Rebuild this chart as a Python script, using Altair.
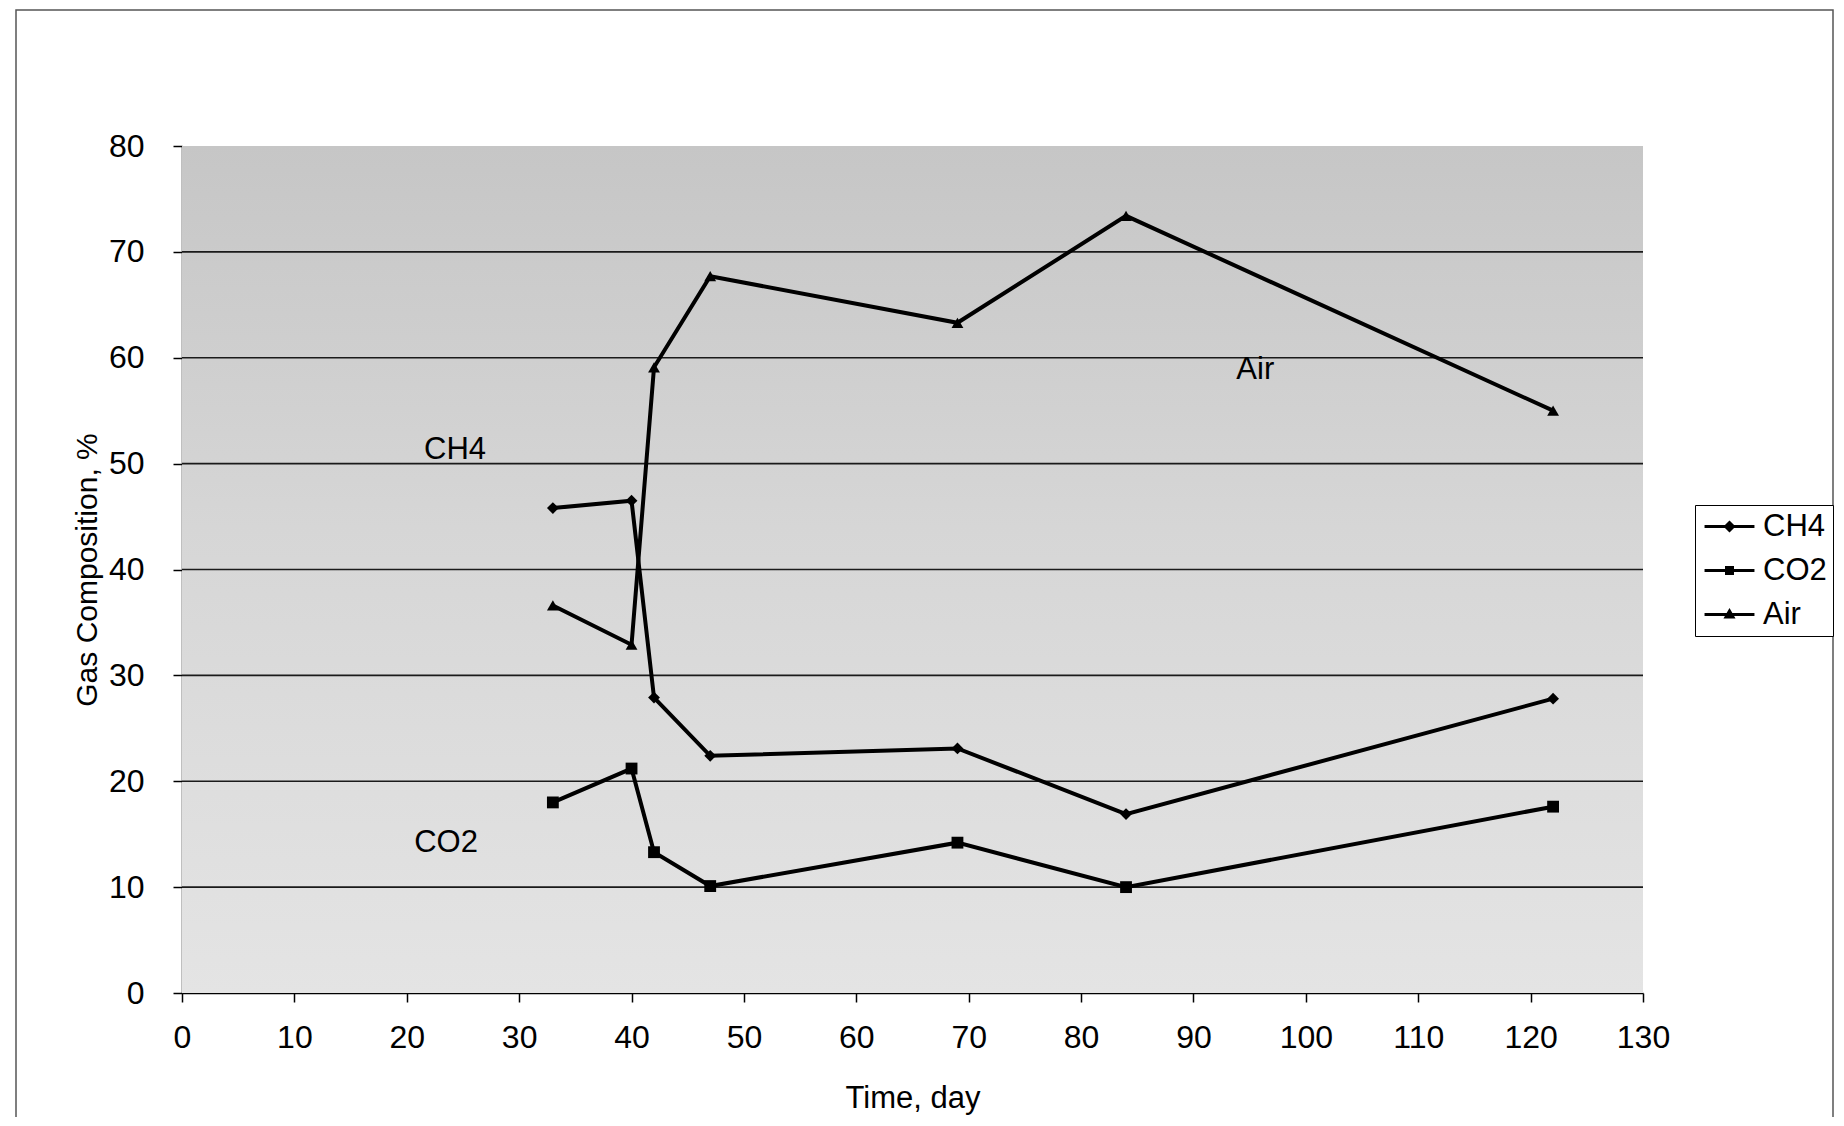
import altair as alt
import pandas as pd

# ---- data ----
series_names = ["CH4", "CO2", "Air"]
time_days = [33, 40, 42, 47, 69, 84, 122]
ch4_values = [45.8, 46.5, 27.9, 22.4, 23.1, 16.9, 27.8]
co2_values = [18.0, 21.2, 13.3, 10.1, 14.2, 10.0, 17.6]
air_values = [36.6, 32.9, 59.1, 67.7, 63.3, 73.4, 55.0]

annot_labels = ["CH4", "CO2", "Air"]
annot_x = [24.3, 23.5, 95.5]
annot_y = [51.3, 14.2, 58.8]

x_ticks = list(range(0, 131, 10))
y_ticks = list(range(0, 81, 10))
grid_levels = list(range(10, 80, 10))

rows = []
for name, vals in zip(series_names, [ch4_values, co2_values, air_values]):
    for t, v in zip(time_days, vals):
        rows.append({"series": name, "time": t, "value": v})
df = pd.DataFrame(rows)
annot_df = pd.DataFrame({"label": annot_labels, "time": annot_x, "value": annot_y})
bg_df = pd.DataFrame({"time": [0], "time2": [130], "value": [0], "value2": [80]})
grid_df = pd.DataFrame({"time": [0] * len(grid_levels), "time2": [130] * len(grid_levels),
                        "value": grid_levels})

FONT = "Liberation Sans, Arial, sans-serif"

x_scale = alt.Scale(domain=[0, 130], nice=False, zero=False)
y_scale = alt.Scale(domain=[0, 80], nice=False)
x_axis = alt.Axis(values=x_ticks, grid=False, tickSize=9, tickColor="black",
                  domainColor="black", domainWidth=1.5, tickWidth=1.5,
                  labelFont=FONT, labelFontSize=32, labelColor="black",
                  labelPadding=20, titleFont=FONT, titleFontSize=31,
                  titleFontWeight="normal", titleColor="black", titlePadding=30,
                  labelFlush=False)
y_axis = alt.Axis(values=y_ticks, grid=False,
                  tickSize=9, tickColor="black", domainColor="black",
                  domainWidth=1.5, tickWidth=1.5,
                  labelFont=FONT, labelFontSize=32, labelColor="black",
                  labelPadding=29, titleFont=FONT, titleFontSize=30,
                  titleFontWeight="normal", titleColor="black", titlePadding=6)


def X(field):
    return alt.X(field, type="quantitative", scale=x_scale, axis=x_axis, title="Time, day")


def Y(field):
    return alt.Y(field, type="quantitative", scale=y_scale, axis=y_axis,
                 title="Gas Composition, %")


gradient = alt.Gradient(
    gradient="linear",
    stops=[alt.GradientStop(offset=0, color="#c6c6c6"),
           alt.GradientStop(offset=0.45, color="#d6d6d6"),
           alt.GradientStop(offset=1, color="#e4e4e4")],
    x1=0, x2=0, y1=0, y2=1,
)

bg = alt.Chart(bg_df).mark_rect(color=gradient).encode(
    x=X("time"), x2="time2", y=Y("value"), y2="value2"
)

grid = alt.Chart(grid_df).mark_rule(color="#1a1a1a", strokeWidth=1.6).encode(
    x=X("time"), x2="time2", y=Y("value")
)

lines = alt.Chart(df).mark_line(color="black", strokeWidth=4).encode(
    x=X("time"), y=Y("value"), detail="series:N"
)

points = alt.Chart(df).mark_point(filled=True, color="black", opacity=1, size=140).encode(
    x=X("time"), y=Y("value"),
    shape=alt.Shape("series:N",
                    scale=alt.Scale(domain=series_names,
                                    range=["diamond", "square", "triangle-up"]),
                    legend=None),
)

legend_paths = [
    "M-1.61,-0.1H1.61V0.1H-1.61ZM0,-0.39L0.39,0L0,0.39L-0.39,0Z",
    "M-1.61,-0.1H1.61V0.1H-1.61ZM-0.29,-0.29H0.29V0.29H-0.29Z",
    "M-1.61,-0.1H1.61V0.1H-1.61ZM0,-0.42L0.39,0.26H-0.39Z",
]

legend_layer = alt.Chart(df).mark_point(filled=True, color="black", opacity=0).encode(
    x=X("time"), y=Y("value"),
    shape=alt.Shape("series:N",
                    scale=alt.Scale(domain=series_names, range=legend_paths),
                    legend=alt.Legend(title=None, orient="none", legendX=1513, legendY=359,
                                      labelFont=FONT, labelFontSize=31, labelColor="black",
                                      labelExpr="datum.label + '  '",
                                      symbolSize=961, symbolStrokeWidth=0,
                                      symbolFillColor="black", symbolOffset=13,
                                      symbolOpacity=1, labelOffset=18,
                                      strokeColor="black", fillColor="white",
                                      padding=6, rowPadding=12)),
)

texts = alt.Chart(annot_df).mark_text(font=FONT, fontSize=31, color="black").encode(
    x=X("time"), y=Y("value"), text="label:N"
)

frame = alt.Chart(bg_df).mark_rect(filled=False, stroke="#555555", strokeWidth=1.5).encode(
    x=alt.value(-166), x2=alt.value(1651), y=alt.value(-136), y2=alt.value(1100)
)

chart = alt.layer(bg, grid, lines, points, legend_layer, texts, frame).resolve_scale(
    shape="independent"
).properties(
    width=1461, height=847,
    autosize=alt.AutoSizeParams(type="none"),
    padding={"left": 174, "top": 138, "right": 192, "bottom": 124},
    background="white",
).configure_view(stroke=None)

chart.save("out.html", embed_options={"renderer": "svg", "actions": False})
